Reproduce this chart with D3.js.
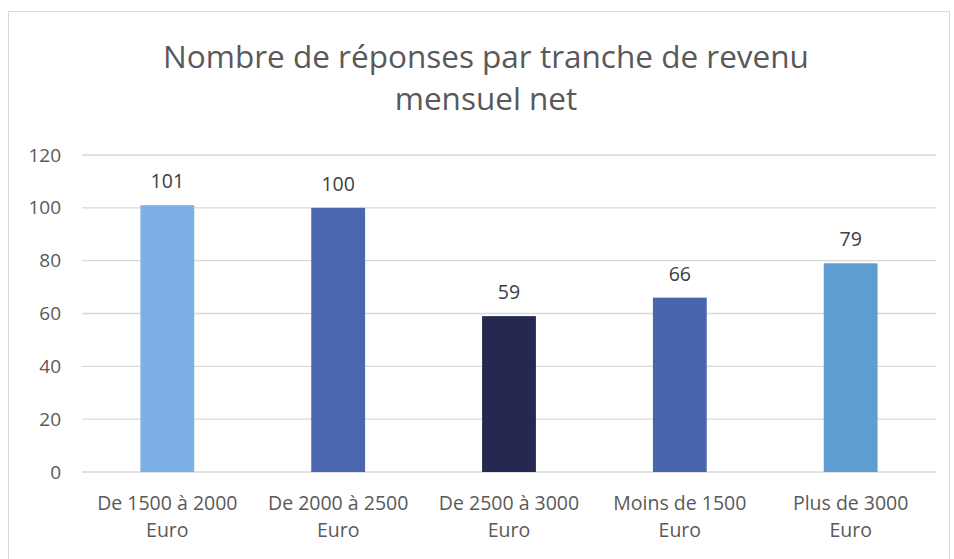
<!DOCTYPE html>
<html><head><meta charset="utf-8">
<script src="https://cdn.jsdelivr.net/npm/d3@7"></script>
<style>body{margin:0;background:#fff}text{font-family:"Open Sans","Liberation Sans",sans-serif}</style>
</head><body>
<svg id="c" width="954" height="559"></svg>
<script>
const categories = ["De 1500 à 2000|Euro","De 2000 à 2500|Euro","De 2500 à 3000|Euro","Moins de 1500|Euro","Plus de 3000|Euro"];
const values = [101,100,59,66,79];
const colors = ["#7DB0E4","#4966AE","#252851","#4865AD","#5E9CD1"];
const yTicks = [0,20,40,60,80,100,120];
const titleLines = ["Nombre de réponses par tranche de revenu","mensuel net"];

const svg = d3.select("#c");
svg.append("rect").attr("x",8.5).attr("y",11.5).attr("width",941).attr("height",560)
  .attr("fill","#fff").attr("stroke","#d9d9d9");

const m = {l:82,r:936,t:155,b:472};
const x = d3.scaleBand().domain(categories).range([m.l,m.r]).paddingInner(0.685).paddingOuter(0.342);
const y = d3.scaleLinear().domain([0,120]).range([m.b,m.t]);

svg.append("g").selectAll("line").data(yTicks).join("line")
  .attr("x1",m.l).attr("x2",m.r).attr("y1",d=>y(d)).attr("y2",d=>y(d))
  .attr("stroke","#d9d9d9").attr("stroke-width",1.3);

const ya = svg.append("g").attr("transform",`translate(${m.l},0)`)
  .call(d3.axisLeft(y).tickValues(yTicks).tickSize(0).tickPadding(21));
ya.select(".domain").remove();
ya.selectAll("text").attr("font-size",19).attr("fill","#595959").style("font-family","'Open Sans',sans-serif");

svg.append("g").selectAll("rect").data(values).join("rect")
  .attr("x",(d,i)=>x(categories[i])).attr("width",x.bandwidth())
  .attr("y",d=>y(d)).attr("height",d=>y(0)-y(d)).attr("fill",(d,i)=>colors[i]);

svg.append("g").selectAll("text").data(values).join("text")
  .attr("x",(d,i)=>x(categories[i])+x.bandwidth()/2).attr("y",d=>y(d)-17)
  .attr("text-anchor","middle").attr("font-size",19.5).attr("fill","#404040").text(d=>d);

const xa = svg.append("g");
categories.forEach(c=>{
  const t = xa.append("text").attr("text-anchor","middle").attr("font-size",19.5).attr("fill","#595959");
  c.split("|").forEach((s,j)=>t.append("tspan").attr("x",x(c)+x.bandwidth()/2).attr("y",510+j*27).text(s));
});

const tt = svg.append("text").attr("text-anchor","middle").attr("font-size",31.5).attr("fill","#595959");
titleLines.forEach((s,j)=>tt.append("tspan").attr("x",486).attr("y",68+j*42).text(s));
</script>
</body></html>
